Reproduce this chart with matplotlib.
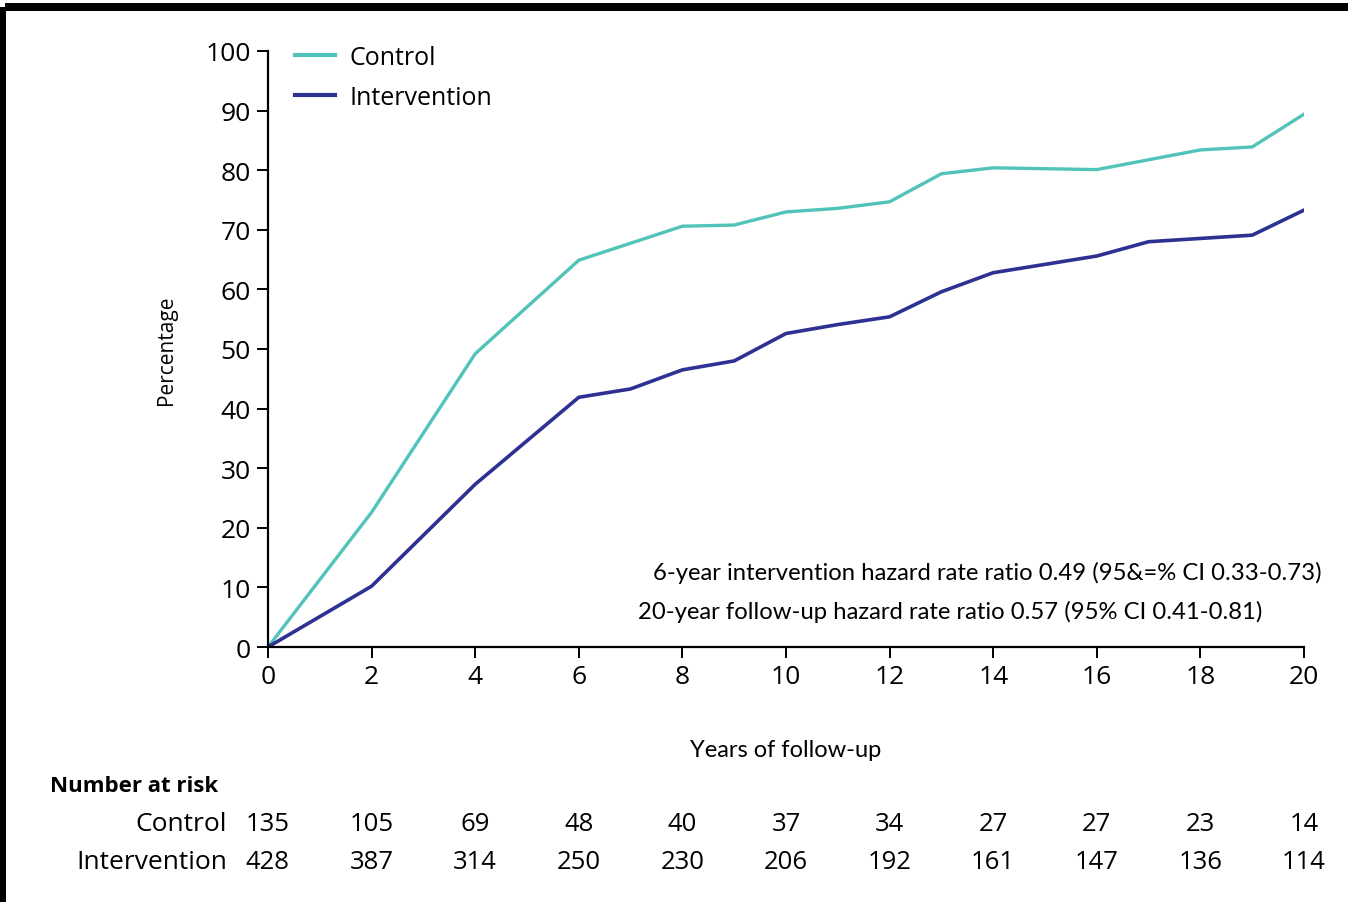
import matplotlib.pyplot as plt
from matplotlib.patches import Rectangle
import matplotlib.transforms as mtransforms

# cumulative percentage by years of follow-up
years_control = [0, 2, 4, 6, 8, 9, 10, 11, 12, 13, 14, 16, 18, 19, 20]
pct_control = [0, 22.6, 49.2, 64.9, 70.6, 70.8, 73.0, 73.6, 74.7, 79.4, 80.4, 80.1, 83.4, 83.9, 89.4]

years_interv = [0, 2, 4, 6, 7, 8, 9, 10, 11, 12, 13, 14, 16, 17, 19, 20]
pct_interv = [0, 10.2, 27.3, 41.9, 43.3, 46.5, 48.0, 52.6, 54.1, 55.4, 59.6, 62.8, 65.6, 68.0, 69.1, 73.3]

# number at risk table
risk_years = [0, 2, 4, 6, 8, 10, 12, 14, 16, 18, 20]
risk_control = [135, 105, 69, 48, 40, 37, 34, 27, 27, 23, 14]
risk_interv = [428, 387, 314, 250, 230, 206, 192, 161, 147, 136, 114]

hr_lines = ['6-year intervention hazard rate ratio 0.49 (95&=% CI 0.33-0.73)',
            '20-year follow-up hazard rate ratio 0.57 (95% CI 0.41-0.81)']

teal = '#52c3b8'
navy = '#2e3192'
main_font = ['Open Sans', 'DejaVu Sans']
narrow_font = ['Lato', 'DejaVu Sans']

W, H = 1348, 903
fig = plt.figure(figsize=(W / 100, H / 100), dpi=100)
ax = fig.add_axes([268 / W, 1 - 648 / H, (1304 - 268) / W, (648 - 52) / H])

ax.plot(years_control, pct_control, color=teal, lw=2.4, label='Control')
ax.plot(years_interv, pct_interv, color=navy, lw=2.6, label='Intervention')

ax.set_xlim(0, 20)
ax.set_ylim(0, 100)
ax.set_xticks(range(0, 21, 2))
ax.set_yticks(range(0, 101, 10))
for s in ['top', 'right']:
    ax.spines[s].set_visible(False)
for s in ['left', 'bottom']:
    ax.spines[s].set_linewidth(1.6)
ax.tick_params(direction='out', length=8, width=1.4, pad=4.5, labelsize=19)
for lbl in ax.get_xticklabels() + ax.get_yticklabels():
    lbl.set_family(main_font)

ax.set_ylabel('Percentage', fontsize=15, family=main_font, labelpad=20)
ax.set_xlabel('Years of follow-up', fontsize=17, family=narrow_font, labelpad=36)

leg = ax.legend(loc='upper left', bbox_to_anchor=(0.004, 1.048), frameon=False,
                prop={'family': main_font, 'size': 18}, handlelength=1.6,
                handletextpad=0.6, labelspacing=0.6)
for h in leg.get_lines():
    h.set_linewidth(3)

# hazard ratio notes
fig.text(1322 / W, 1 - 573 / H, hr_lines[0], fontsize=17.2, family=narrow_font, va='center', ha='right')
fig.text(1262 / W, 1 - 612 / H, hr_lines[1], fontsize=17.2, family=narrow_font, va='center', ha='right')

# number at risk rows, aligned with the x axis
trans = mtransforms.blended_transform_factory(ax.transData, fig.transFigure)
fig.text(50 / W, 1 - 787 / H, 'Number at risk', fontsize=16, family=main_font,
         fontweight='bold', va='center', ha='left')
fig.text(227 / W, 1 - 825 / H, 'Control', fontsize=19, family=main_font, va='center', ha='right')
fig.text(227 / W, 1 - 863 / H, 'Intervention', fontsize=19, family=main_font, va='center', ha='right')
for x, c, i in zip(risk_years, risk_control, risk_interv):
    ax.text(x, 1 - 825 / H, str(c), transform=trans, fontsize=18.5, family=main_font,
            va='center', ha='center', clip_on=False)
    ax.text(x, 1 - 863 / H, str(i), transform=trans, fontsize=18.5, family=main_font,
            va='center', ha='center', clip_on=False)

# black frame on top and left edges
fig.add_artist(Rectangle((5 / W, 1 - 12 / H), 1 - 5 / W, 8 / H, transform=fig.transFigure,
                         color='black', lw=0))
fig.add_artist(Rectangle((0, 0), 6 / W, 1 - 8 / H, transform=fig.transFigure,
                         color='black', lw=0))

fig.savefig('out.png', dpi=100)
